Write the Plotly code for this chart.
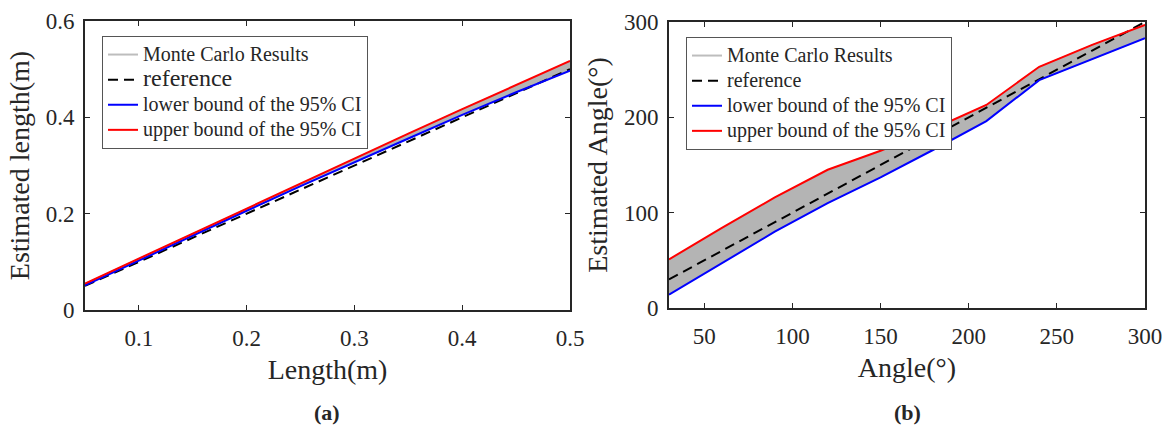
import plotly.graph_objects as go

# ---- data: panel (a) length ----
len_x = [0.05, 0.10, 0.15, 0.20, 0.25, 0.30, 0.35, 0.40, 0.45, 0.50]
len_ref = [0.05, 0.10, 0.15, 0.20, 0.25, 0.30, 0.35, 0.40, 0.45, 0.50]
len_lower = [0.051, 0.103, 0.155, 0.206, 0.257, 0.307, 0.356, 0.405, 0.452, 0.497]
len_upper = [0.055, 0.107, 0.159, 0.211, 0.263, 0.315, 0.366, 0.417, 0.467, 0.517]

# ---- data: panel (b) angle ----
ang_x = [30, 60, 90, 120, 150, 180, 210, 240, 270, 300]
ang_ref = [30, 60, 90, 120, 150, 180, 210, 240, 270, 300]
ang_lower = [14, 47, 80, 110, 137, 166, 196, 239, 261, 283]
ang_upper = [51, 84, 116, 145, 165, 188, 213, 253, 276, 297]

len_xticks = [0.1, 0.2, 0.3, 0.4, 0.5]
len_xticktext = ["0.1", "0.2", "0.3", "0.4", "0.5"]
len_yticks = [0, 0.2, 0.4, 0.6]
len_yticktext = ["0", "0.2", "0.4", "0.6"]
ang_xticks = [50, 100, 150, 200, 250, 300]
ang_yticks = [0, 100, 200, 300]

names = ["Monte Carlo Results", "reference",
         "lower bound of the 95% CI", "upper bound of the 95% CI"]

FONT = "Liberation Serif, Times New Roman, serif"
GRAY = "#b4b4b4"
AXC = "#262626"

fig = go.Figure()


def span(text, size):
    return '<span style="font-size:%dpx">%s</span>' % (size, text)


def add_panel(x, ref, lo, hi, xa, ya, leg, ref_size):
    # Monte Carlo band
    fig.add_trace(go.Scatter(x=x + x[::-1], y=hi + lo[::-1], fill="toself",
                             fillcolor=GRAY, line=dict(color=GRAY, width=1),
                             mode="lines", showlegend=False, hoverinfo="skip",
                             xaxis=xa, yaxis=ya))
    # legend-only sample for MC
    fig.add_trace(go.Scatter(x=[None], y=[None], mode="lines", name=span(names[0], 20),
                             line=dict(color="#bdbdbd", width=2), legend=leg,
                             xaxis=xa, yaxis=ya))
    fig.add_trace(go.Scatter(x=x, y=ref, mode="lines", name=span(names[1], ref_size),
                             line=dict(color="black", width=2, dash="10px,6px"),
                             legend=leg, xaxis=xa, yaxis=ya))
    fig.add_trace(go.Scatter(x=x, y=lo, mode="lines", name=span(names[2], 20),
                             line=dict(color="#0000ff", width=2),
                             legend=leg, xaxis=xa, yaxis=ya))
    fig.add_trace(go.Scatter(x=x, y=hi, mode="lines", name=span(names[3], 20),
                             line=dict(color="#ff0000", width=2),
                             legend=leg, xaxis=xa, yaxis=ya))


add_panel(len_x, len_ref, len_lower, len_upper, "x", "y", "legend", 24)
add_panel(ang_x, ang_ref, ang_lower, ang_upper, "x2", "y2", "legend2", 20)

W, H = 1170, 425


def px_x(p):
    return p / W


def px_y(p):
    return 1 - p / H


axis_common = dict(showline=True, linecolor=AXC, linewidth=2, mirror="allticks",
                   ticks="inside", ticklen=5, tickwidth=1, tickcolor=AXC,
                   showgrid=False, zeroline=False, automargin=False,
                   tickfont=dict(family=FONT, size=23, color="#262626"),
                   title_font=dict(family=FONT, size=28, color="#262626"))

fig.update_layout(
    width=W, height=H,
    margin=dict(l=0, r=0, t=0, b=0),
    paper_bgcolor="white", plot_bgcolor="white",
    font=dict(family=FONT, color="#262626"),
    xaxis=dict(domain=[px_x(85), px_x(570)], range=[0.05, 0.5],
               tickvals=len_xticks, ticktext=len_xticktext,
               ticklabelstandoff=6,
               title=dict(text="Length(m)", standoff=10), anchor="y", **axis_common),
    yaxis=dict(domain=[px_y(310), px_y(21)], range=[0, 0.6],
               tickvals=len_yticks, ticktext=len_yticktext,
               title=dict(text="Estimated length(m)", standoff=8), anchor="x",
               ticklabelstandoff=4, **axis_common),
    xaxis2=dict(domain=[px_x(669), px_x(1145)], range=[30, 300],
                tickvals=ang_xticks, ticklabelstandoff=6,
                title=dict(text="Angle(°)", standoff=10), anchor="y2", **axis_common),
    yaxis2=dict(domain=[px_y(308), px_y(22)], range=[0, 300],
                tickvals=ang_yticks,
                title=dict(text="Estimated Angle(°)", standoff=8), anchor="x2",
                ticklabelstandoff=4, **axis_common),
    legend=dict(x=px_x(102), y=px_y(36), xanchor="left", yanchor="top",
                bgcolor="white", bordercolor="#555555", borderwidth=1,
                font=dict(family=FONT, size=17, color="#262626"),
                tracegroupgap=0, itemwidth=30),
    legend2=dict(x=px_x(686), y=px_y(37), xanchor="left", yanchor="top",
                 bgcolor="white", bordercolor="#555555", borderwidth=1,
                 font=dict(family=FONT, size=17, color="#262626"),
                 tracegroupgap=0, itemwidth=30),
    annotations=[
        dict(text="<b>(a)</b>", x=px_x(327), y=px_y(412), xref="paper", yref="paper",
             xanchor="center", yanchor="middle",
             showarrow=False, font=dict(family=FONT, size=22, color="#262626")),
        dict(text="<b>(b)</b>", x=px_x(907), y=px_y(412), xref="paper", yref="paper",
             xanchor="center", yanchor="middle",
             showarrow=False, font=dict(family=FONT, size=22, color="#262626")),
    ],
)

fig.write_html("out.html", config={"displayModeBar": False},
               post_script="document.body.style.margin='0';document.body.style.overflow='hidden';")
